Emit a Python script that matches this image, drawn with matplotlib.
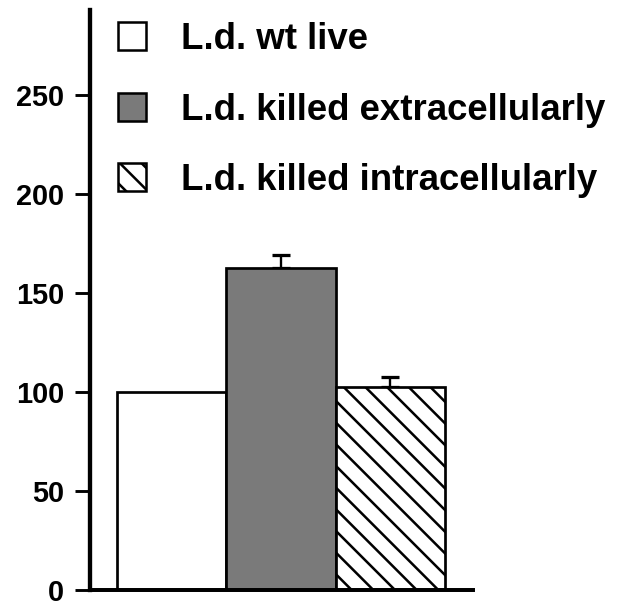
import matplotlib
matplotlib.use("Agg")
import matplotlib.pyplot as plt
from matplotlib.patches import Patch

labels = ["L.d. wt live", "L.d. killed extracellularly", "L.d. killed intracellularly"]
values = [100, 162.5, 102.7]
err_up = [0, 6.7, 4.7]
yticks = [0, 50, 100, 150, 200, 250]

DPI = 130
plt.rcParams['font.family'] = ['Liberation Sans', 'DejaVu Sans']
plt.rcParams['font.weight'] = 'bold'
plt.rcParams['hatch.linewidth'] = 1.4
plt.rcParams['hatch.color'] = 'black'

fig = plt.figure(figsize=(626 / DPI, 607 / DPI), dpi=DPI)
ax = fig.add_axes([90 / 626, 1 - 590 / 607, 383 / 626, 580 / 607])

faces = ['white', '#7a7a7a', 'white']
hatches = [None, None, '\\\\']
x = list(range(len(values)))
bars = ax.bar(x, values, width=1.0, color=faces, edgecolor='black', linewidth=1.5, zorder=2)
for b, h in zip(bars, hatches):
    if h:
        b.set_hatch(h)

ex = [xi for xi, e in zip(x, err_up) if e > 0]
ev = [v for v, e in zip(values, err_up) if e > 0]
ee = [e for e in err_up if e > 0]
ax.errorbar(ex, ev, yerr=[[0] * len(ee), ee], fmt='none', ecolor='black',
            elinewidth=1.3, capsize=5.2, capthick=1.8, zorder=1)

ax.set_xlim(-0.747, 2.756)
ax.set_ylim(0, 293)
ax.set_yticks(yticks)
ax.set_yticklabels([str(t) for t in yticks], fontsize=16, fontweight='bold')
ax.set_xticks([])
ax.tick_params(axis='y', direction='out', length=8.5, width=1.6, pad=6)
for s in ['top', 'right']:
    ax.spines[s].set_visible(False)
ax.spines['left'].set_linewidth(2.4)
ax.spines['bottom'].set_linewidth(2.2)

handles = [Patch(facecolor=faces[i], edgecolor='black', linewidth=1.4,
                 hatch=hatches[i]) for i in range(3)]
leg = ax.legend(handles, labels, loc='upper left', bbox_to_anchor=(118 / 626, 1 - 22 / 607),
                bbox_transform=fig.transFigure, frameon=False, borderpad=0,
                borderaxespad=0, handlelength=0.77, handleheight=0.8,
                handletextpad=0.96, labelspacing=0.97,
                prop={'family': ['Liberation Sans'], 'weight': 'bold', 'size': 20.3})

fig.savefig('out.png', dpi=DPI)
